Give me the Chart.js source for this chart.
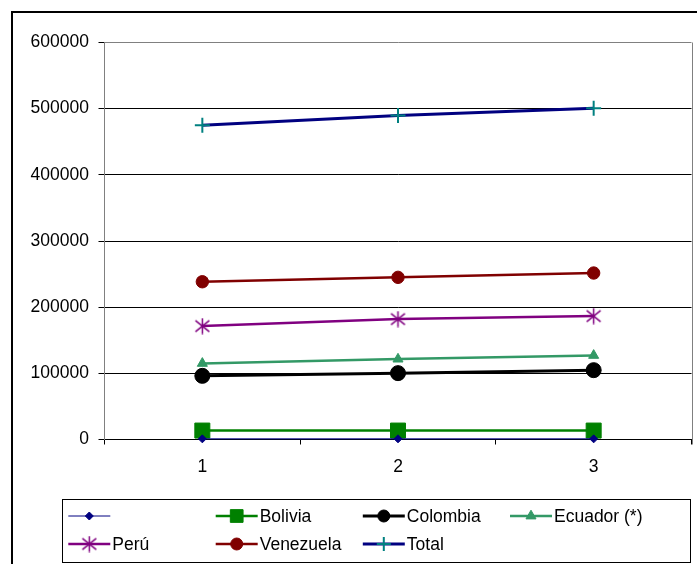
<!DOCTYPE html>
<html>
<head>
<meta charset="utf-8">
<script src="https://cdn.jsdelivr.net/npm/chart.js@4.4.1/dist/chart.umd.min.js"></script>
<style>
html,body{margin:0;padding:0;background:#fff;}
canvas{display:block;}
</style>
</head>
<body>
<canvas id="c" width="697" height="564"></canvas>
<script>
const categories = ['1', '2', '3'];
const seriesNames = ['', 'Bolivia', 'Colombia', 'Ecuador (*)', 'Perú', 'Venezuela', 'Total'];
const serieBlank = [1000, 1000, 1000];
const bolivia = [13500, 13500, 13500];
const colombia = [96200, 100300, 104800];
const ecuador = [115000, 121500, 127100];
const peru = [171400, 182000, 186500];
const venezuela = [238400, 245100, 251600];
const total = [475000, 489500, 500500];
const yTicks = [0, 100000, 200000, 300000, 400000, 500000, 600000];

const FONT = 'Liberation Sans, Arial, sans-serif';

function makeStar(color, size) {
  const c = document.createElement('canvas');
  c.width = size; c.height = size;
  const g = c.getContext('2d');
  const r = size / 2 - 0.5, cx = size / 2, cy = size / 2;
  g.strokeStyle = color; g.lineWidth = 1.5;
  g.beginPath();
  g.moveTo(cx, cy - r); g.lineTo(cx, cy + r);
  const a = r * 0.87;
  g.moveTo(cx - a, cy - a * 0.8); g.lineTo(cx + a, cy + a * 0.8);
  g.moveTo(cx - a, cy + a * 0.8); g.lineTo(cx + a, cy - a * 0.8);
  g.stroke();
  return c;
}
const starImg = makeStar('#800080', 17);

const styles = [
  {color: '#000080', pcolor: '#000080', point: 'rectRot', r: 4, w: 1, lr: 4},
  {color: '#008000', pcolor: '#008000', point: 'rect', r: 10.6, w: 2.5, lr: 9},
  {color: '#000000', pcolor: '#000000', point: 'circle', r: 7.5, w: 3, lr: 6},
  {color: '#339966', pcolor: '#339966', point: 'triangle', r: 5.8, w: 2.5, lr: 5.8},
  {color: '#800080', pcolor: '#800080', point: starImg, r: 8, w: 2.5, lr: 8},
  {color: '#800000', pcolor: '#800000', point: 'circle', r: 6.2, w: 2.5, lr: 6},
  {color: '#000080', pcolor: '#008080', point: 'cross', r: 7.5, w: 3, lr: 7}
];
const values = [serieBlank, bolivia, colombia, ecuador, peru, venezuela, total];

const datasets = values.map((v, i) => ({
  label: seriesNames[i],
  data: v,
  borderColor: styles[i].color,
  backgroundColor: styles[i].pcolor,
  pointBackgroundColor: styles[i].pcolor,
  pointBorderColor: styles[i].pcolor,
  pointBorderWidth: styles[i].point === 'cross' ? 2 : 1,
  borderWidth: styles[i].w,
  pointStyle: styles[i].point,
  pointRadius: styles[i].r,
  pointHoverRadius: styles[i].r,
  tension: 0,
  clip: false
}));

const legendLayout = [
  [0, 68.3, 516], [1, 215.7, 516], [2, 362.8, 516], [3, 510, 516],
  [4, 68.3, 544], [5, 215.7, 544], [6, 362.8, 544]
];

const framePlugin = {
  id: 'frame',
  afterDraw(chart) {
    const ctx = chart.ctx;
    const ca = chart.chartArea;
    ctx.save();
    // plot right border
    ctx.strokeStyle = '#808080';
    ctx.lineWidth = 1;
    ctx.beginPath();
    ctx.moveTo(Math.round(ca.right) + 0.5, ca.top);
    ctx.lineTo(Math.round(ca.right) + 0.5, ca.bottom + 5);
    ctx.stroke();
    // outer frame
    ctx.strokeStyle = '#000';
    ctx.lineWidth = 2;
    ctx.beginPath();
    ctx.moveTo(12, 600);
    ctx.lineTo(12, 12);
    ctx.lineTo(720, 12);
    ctx.stroke();
    // legend box
    ctx.lineWidth = 1;
    ctx.strokeStyle = '#000';
    ctx.strokeRect(62.5, 499.5, 628, 63);
    // legend items
    ctx.font = '17.5px ' + FONT;
    ctx.textBaseline = 'middle';
    ctx.textAlign = 'left';
    legendLayout.forEach(([i, x0, y]) => {
      const s = styles[i];
      ctx.strokeStyle = s.color;
      ctx.lineWidth = s.w;
      ctx.beginPath();
      ctx.moveTo(x0, y);
      ctx.lineTo(x0 + 42, y);
      ctx.stroke();
      ctx.fillStyle = s.pcolor;
      ctx.strokeStyle = s.pcolor;
      ctx.lineWidth = s.point === 'cross' ? 2 : 1;
      Chart.helpers.drawPoint(ctx, {pointStyle: s.point, radius: s.lr, rotation: 0, borderWidth: ctx.lineWidth}, x0 + 21, y);
      ctx.fillStyle = '#000';
      if (seriesNames[i]) ctx.fillText(seriesNames[i], x0 + 44, y + 1);
    });
    ctx.restore();
  }
};

new Chart(document.getElementById('c'), {
  type: 'line',
  data: {labels: categories, datasets: datasets},
  options: {
    responsive: false,
    animation: false,
    events: [],
    layout: {autoPadding: false, padding: {left: 0, top: 42.5, right: 5.5, bottom: 84.5}},
    plugins: {legend: {display: false}, tooltip: {enabled: false}},
    scales: {
      x: {
        offset: true,
        afterFit(scale) { scale.height = 40; scale.paddingLeft = 0; scale.paddingRight = 0; },
        grid: {offset: true, drawOnChartArea: false, drawTicks: true, tickLength: 5, color: '#000'},
        border: {color: '#000', width: 1},
        ticks: {color: '#000', font: {family: FONT, size: 17.5}, padding: 12, maxRotation: 0}
      },
      y: {
        min: 0, max: 600000,
        afterFit(scale) { scale.width = 104.5; scale.paddingTop = 0; scale.paddingBottom = 0; },
        afterBuildTicks(scale) { scale.ticks = yTicks.map(v => ({value: v})); },
        grid: {
          color: ctx => (ctx.tick && ctx.tick.value === 600000) ? '#808080' : '#000',
          tickColor: '#000',
          tickLength: 6,
          lineWidth: 1
        },
        border: {color: '#808080', width: 1},
        ticks: {color: '#000', font: {family: FONT, size: 17.5}, padding: 9.5, callback: v => String(v)}
      }
    }
  },
  plugins: [framePlugin]
});
</script>
</body>
</html>
